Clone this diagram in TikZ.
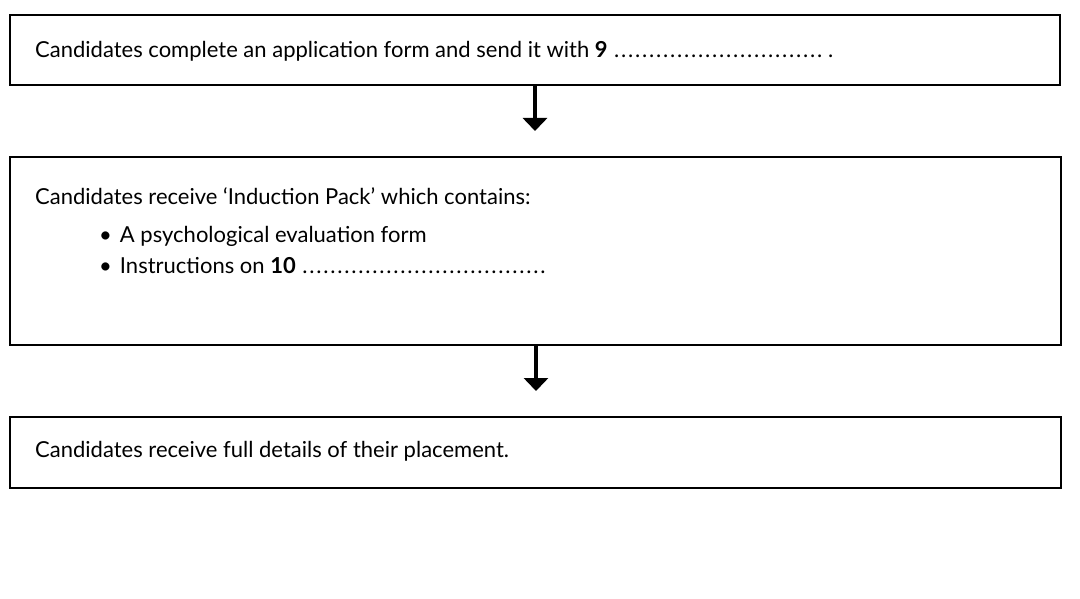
\documentclass[tikz,border=0pt]{standalone}
\usepackage{fontspec}
\setmainfont{Lato}
\usetikzlibrary{arrows.meta}
\newcommand{\dotsline}[1]{\makebox[#1]{\leaders\hbox to 7pt{\hss.\hss}\hfill}}
\begin{document}
\begin{tikzpicture}[x=1pt,y=-1pt,
  box/.style={draw=black,line width=1.6pt,minimum height=#1,inner sep=0pt,anchor=north west},
  txt/.style={anchor=west,inner sep=0pt,font=\fontsize{22}{26}\selectfont},
  flow/.style={line width=3.6pt,-{Triangle[width=24pt,length=13pt]}}]
\useasboundingbox (0,0) rectangle (1080,599);
\node[box=70pt,minimum width=1050pt] (b1) at (9,14) {};
\node[box=188pt,minimum width=1051pt] (b2) at (9,156) {};
\node[box=71pt,minimum width=1051pt] (b3) at (9,416) {};
\node[txt] (t1) at (35,51) {Candidates complete an application form and send it with \textbf{9} \dotsline{215pt}.};
\node[txt] (t2) at (35,196) {Candidates receive ‘Induction Pack’ which contains:};
\node[txt] (t3) at (99,236) {•\hspace{8pt}A psychological evaluation form};
\node[txt] (t4) at (99,266) {•\hspace{8pt}Instructions on \textbf{10} \dotsline{248pt}};
\node[txt] (t5) at (35,451) {Candidates receive full details of their placement.};
\coordinate (e1) at (535,131);
\coordinate (e2) at (536,391);
\draw[flow] (b1.south -| e1) -- (e1);
\draw[flow] (b2.south -| e2) -- (e2);
\end{tikzpicture}
\end{document}
